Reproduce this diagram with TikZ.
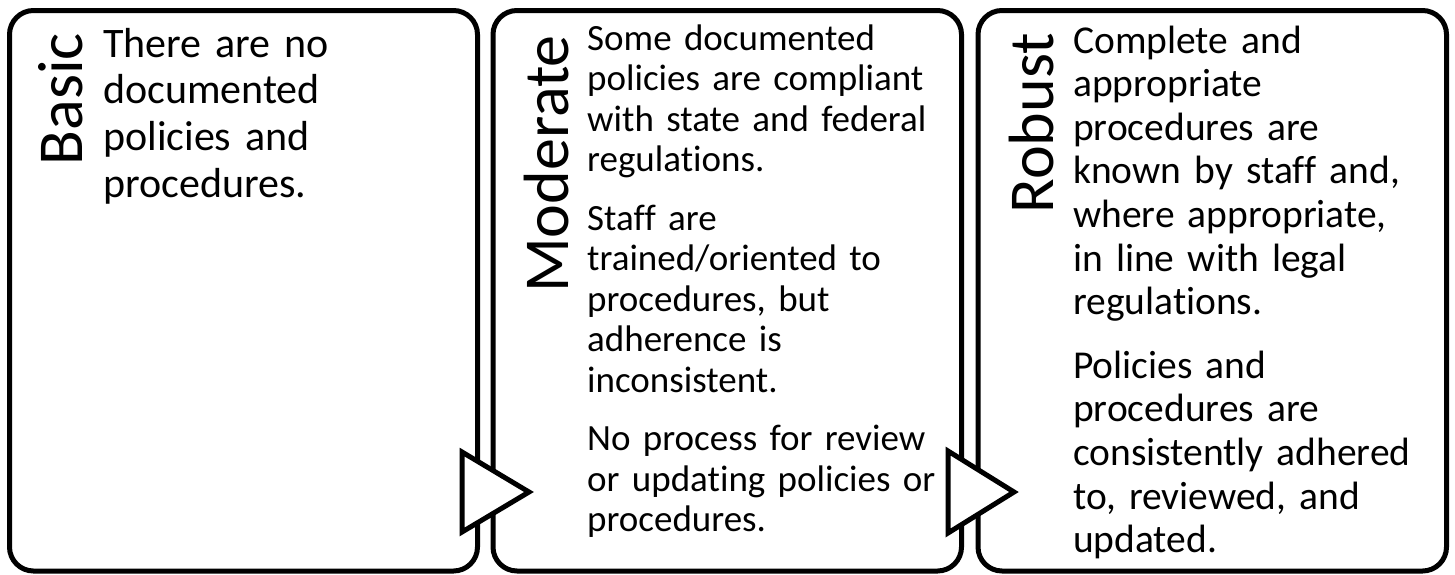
\documentclass[tikz,border=0pt]{standalone}
\usepackage{fontspec}
\setmainfont{Carlito}[Ligatures=NoCommon]
\begin{document}
\begin{tikzpicture}[x=1pt, y=-1pt,
		stagebox/.style={line width=5pt, rounded corners=24pt},
		chevron/.style={line width=5pt, fill=white, line join=miter},
		stagetitle/.style={rotate=90, anchor=base east, inner sep=0pt, font=\fontsize{64}{70}\selectfont},
		stagetext/.style={anchor=base west, inner sep=0pt, text width=370pt, align=left}]
		\useasboundingbox (0, 0) rectangle (1455, 574);
		%%
		\draw[stagebox] (9.5, 10.5) rectangle (477.5, 571);
		\draw[stagebox] (493, 10.5) rectangle (961.5, 571);
		\draw[stagebox] (978, 10.5) rectangle (1446.5, 571);
		%%
		\node[stagetitle] (basic) at (82, 33) {Basic};
		\node[stagetitle] (moderate) at (568, 35) {Moderate};
		\node[stagetitle] (robust) at (1053, 33) {Robust};
		%%
		\node[stagetext, font=\fontsize{42}{46.7}\selectfont] (basictext) at (103, 57)
			{There are no\\ documented\\ policies and\\ procedures.};
		\node[stagetext, font=\fontsize{37}{40.5}\selectfont] (moderatetext) at (587, 50)
			{Some documented\\ policies are compliant\\ with state and federal\\ regulations.\\[18pt]
			Staff are\\ trained/oriented to\\ procedures, but\\ adherence is\\ inconsistent.\\[18pt]
			No process for review\\ or updating policies or\\ procedures.};
		\node[stagetext, font=\fontsize{39.5}{43.6}\selectfont] (robusttext) at (1073, 53)
			{Complete and\\ appropriate\\ procedures are\\ known by staff and,\\ where appropriate,\\ in line with legal\\ regulations.\\[20pt]
			Policies and\\ procedures are\\ consistently adhered\\ to, reviewed, and\\ updated.};
		%%
		\draw[chevron] (462, 452) -- (529, 492) -- (462, 532) -- cycle;
		\draw[chevron] (948, 451) -- (1014, 492) -- (948, 533) -- cycle;
	\end{tikzpicture}
\end{document}
